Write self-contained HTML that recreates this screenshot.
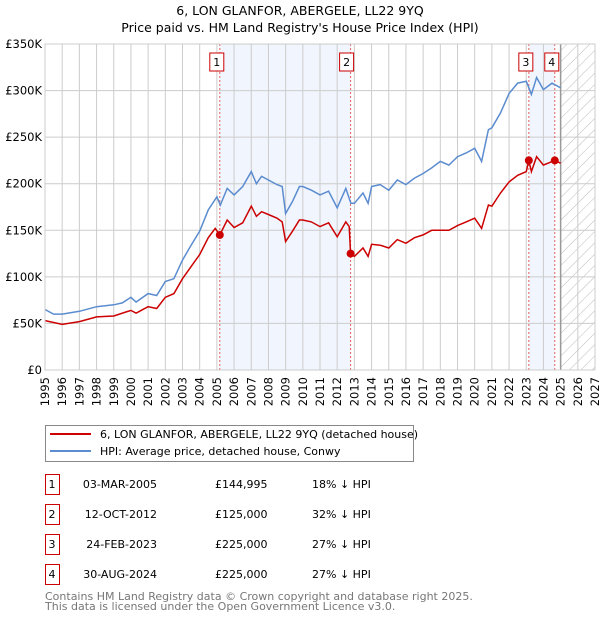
<!DOCTYPE html>
<html><head><meta charset="utf-8"><style>
body{margin:0;background:#fff;font-family:"Liberation Sans","DejaVu Sans",sans-serif;}
svg text{font-family:"DejaVu Sans","Liberation Sans",sans-serif;}
</style></head><body>
<svg width="600" height="620" xmlns="http://www.w3.org/2000/svg">
<defs><pattern id="hatch" width="8" height="8" patternUnits="userSpaceOnUse" patternTransform="rotate(45)"><rect width="8" height="8" fill="#fff"/><line x1="0" y1="0" x2="0" y2="8" stroke="#bbb" stroke-width="1"/></pattern></defs>
<text x="300" y="15" text-anchor="middle" font-size="12.5">6, LON GLANFOR, ABERGELE, LL22 9YQ</text>
<text x="300" y="32" text-anchor="middle" font-size="12.5">Price paid vs. HM Land Registry's House Price Index (HPI)</text>
<g id="plot"></g>
<g>
<rect x="45.5" y="425.5" width="368" height="36" fill="#fff" stroke="#888"/>
<line x1="50" y1="434" x2="91" y2="434" stroke="#cc0000" stroke-width="2"/>
<text x="100" y="438" font-size="11">6, LON GLANFOR, ABERGELE, LL22 9YQ (detached house)</text>
<line x1="50" y1="451" x2="91" y2="451" stroke="#5b8ccf" stroke-width="2"/>
<text x="100" y="455" font-size="11">HPI: Average price, detached house, Conwy</text>
</g>
<g id="table" font-size="11"></g>
<text x="45" y="600" font-size="11" fill="#777">Contains HM Land Registry data © Crown copyright and database right 2025.</text>
<text x="45" y="610" font-size="11" fill="#777">This data is licensed under the Open Government Licence v3.0.</text>
</svg>
<script>
const hpiYears=[1995,1995.5,1996,1997,1998,1999,1999.5,2000,2000.3,2001,2001.5,2002,2002.5,2003,2003.5,2004,2004.5,2005,2005.2,2005.6,2006,2006.5,2007,2007.3,2007.6,2008,2008.5,2008.8,2009,2009.4,2009.8,2010,2010.5,2011,2011.5,2012,2012.5,2012.8,2013,2013.5,2013.8,2014,2014.5,2015,2015.5,2016,2016.5,2017,2017.5,2018,2018.5,2019,2019.5,2020,2020.4,2020.8,2021,2021.5,2022,2022.5,2023,2023.3,2023.6,2024,2024.5,2025];
const hpiValues=[65,60,60,63,68,70,72,78,73,82,80,95,98,118,134,149,172,186,177,195,188,197,213,200,208,204,199,197,168,181,197,197,193,188,192,174,195,179,179,190,179,197,199,193,204,199,206,211,217,224,220,229,233,238,224,258,260,276,297,308,310,296,314,301,308,303];
const priceYears=[1995,1996,1997,1998,1999,2000,2000.3,2001,2001.5,2002,2002.5,2003,2003.5,2004,2004.5,2004.9,2005.17,2005.6,2006,2006.5,2007,2007.3,2007.6,2008,2008.5,2008.8,2009,2009.4,2009.8,2010,2010.5,2011,2011.5,2012,2012.5,2012.7,2012.78,2013,2013.5,2013.8,2014,2014.5,2015,2015.5,2016,2016.5,2017,2017.5,2018,2018.5,2019,2019.5,2020,2020.4,2020.8,2021,2021.5,2022,2022.5,2023,2023.15,2023.3,2023.6,2024,2024.66,2025];
const priceValues=[53,49,52,57,58,64,61,68,66,78,82,98,111,124,142,152,145,161,153,158,176,165,170,167,163,159,138,149,161,161,159,154,158,143,159,154,125,122,131,122,135,134,131,140,136,142,145,150,150,150,155,159,163,152,177,176,190,202,209,213,225,213,229,220,225,222];
const saleLabels=["1","2","3","4"];
const saleYears=[2005.17,2012.78,2023.15,2024.66];
const saleValues=[144.995,125,225,225];
const saleDates=["03-MAR-2005","12-OCT-2012","24-FEB-2023","30-AUG-2024"];
const salePrices=["£144,995","£125,000","£225,000","£225,000"];
const saleDiffs=["18% ↓ HPI","32% ↓ HPI","27% ↓ HPI","27% ↓ HPI"];
const yTicks=[0,50,100,150,200,250,300,350];
const yTickLabels=["£0","£50K","£100K","£150K","£200K","£250K","£300K","£350K"];
const xMin=1995,xMax=2027,yMax=350,dataEnd=2025;
const L=45,R=595,T=44,B=370;
const xs=v=>L+(v-xMin)/(xMax-xMin)*(R-L);
const ys=v=>B-v/yMax*(B-T);
const NS="http://www.w3.org/2000/svg";
const plot=document.getElementById('plot');
function mk(tag,attrs,parent){const e=document.createElementNS(NS,tag);for(const k in attrs)e.setAttribute(k,attrs[k]);(parent||plot).appendChild(e);return e;}
// shaded ranges
for(let i=0;i<saleYears.length;i+=2){
 const r=mk('rect',{x:xs(saleYears[i]),y:T,width:xs(saleYears[i+1])-xs(saleYears[i]),height:B-T,fill:'#eef3fc',opacity:0.8});
 
 
}
const h=mk('rect',{x:xs(dataEnd),y:T,width:R-xs(dataEnd),height:B-T,fill:'url(#hatch)'});


for(let y=xMin;y<=xMax;y++){
 const g=mk('line',{x1:xs(y),x2:xs(y),y1:T,y2:B,stroke:'#ccc','stroke-width':1});
 
 
 const t=mk('text',{x:0,y:0,'font-size':11.5,'text-anchor':'end',transform:`translate(${xs(y)+4},${B+7}) rotate(-90)`});
 t.textContent=y;
 
 
}
yTicks.forEach((v,i)=>{
 const g=mk('line',{x1:L,x2:R,y1:ys(v),y2:ys(v),stroke:'#ccc','stroke-width':1});
 
 
 const t=mk('text',{x:L-3,y:ys(v)+4,'font-size':11.5,'text-anchor':'end'});
 t.textContent=yTickLabels[i];
 
 
});
const dl=mk('line',{x1:xs(dataEnd),x2:xs(dataEnd),y1:T,y2:B,stroke:'#999','stroke-width':1.5});


saleYears.forEach((yr,i)=>{
 const l=mk('line',{x1:xs(yr),x2:xs(yr),y1:T,y2:B,stroke:'#e06060','stroke-width':1,'stroke-dasharray':'2,2'});
 
 
 const bx=xs(yr)-(i==1?4:3);
 const r=mk('rect',{x:bx-7,y:53,width:14,height:18,fill:'#fff',stroke:'#cc0000'});
 
 
 const t=mk('text',{x:bx,y:66,'font-size':11,'text-anchor':'middle'});
 t.textContent=saleLabels[i];
 
 
});
function pts(xa,va){return xa.map((x,i)=>xs(x).toFixed(1)+','+ys(va[i]).toFixed(1)).join(' ');}
const hl=mk('polyline',{points:pts(hpiYears,hpiValues),fill:'none',stroke:'#5b8ccf','stroke-width':1.5});


const pl=mk('polyline',{points:pts(priceYears,priceValues),fill:'none',stroke:'#cc0000','stroke-width':1.5});


saleYears.forEach((yr,i)=>{
 const c=mk('circle',{cx:xs(yr),cy:ys(saleValues[i]),r:4,fill:'#cc0000'});
 
 
});
const ax=mk('rect',{x:L,y:T,width:R-L,height:B-T,fill:'none',stroke:'#ccc'});


const tb=document.getElementById('table');
saleLabels.forEach((s,i)=>{
 const cy=483+i*30;
 const r=mk('rect',{x:45.5,y:cy-8.5,width:14,height:20,fill:'#fff',stroke:'#cc0000'},tb);
 
 
 const cells=[[52,s,'middle'],[157,saleDates[i],'end'],[215,salePrices[i],'start'],[312,saleDiffs[i],'start']];
 cells.forEach(c=>{
  const t=mk('text',{x:c[0],y:cy+5,'text-anchor':c[2]},tb);
  t.textContent=c[1];
  
  
 });
});
</script>
</body></html>
